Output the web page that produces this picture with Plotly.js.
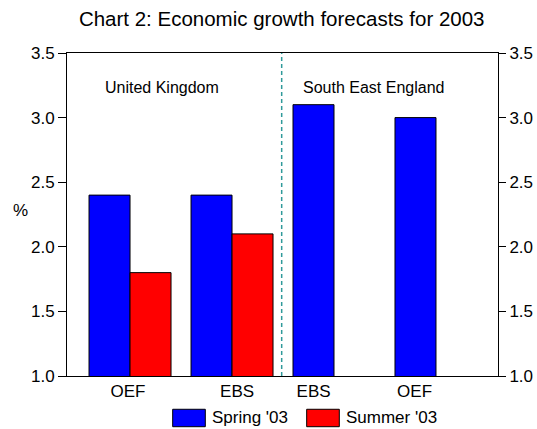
<!DOCTYPE html>
<html>
<head>
<meta charset="utf-8">
<script src="https://cdn.plot.ly/plotly-3.0.1.min.js"></script>
<style>html,body{margin:0;padding:0;background:#fff;}#chart{width:537px;height:429px;}</style>
</head>
<body>
<div id="chart"></div>
<script>
// ---- data ----
const categories = ["UK OEF", "UK EBS", "SE EBS", "SE OEF"];
const tickLabels = ["OEF", "EBS", "EBS", "OEF"];
const seriesNames = ["Spring '03", "Summer '03"];
const spring03 = [2.4, 2.4, 3.1, 3.0];
const summer03 = [1.8, 2.1, null, null];
const regionLabels = ["United Kingdom", "South East England"];
const titleText = "Chart 2: Economic growth forecasts for 2003";
const yUnit = "%";

const FONT = "Liberation Sans, Arial, sans-serif";
const colors = ["#0000FF", "#FF0000"];
const xIdx = categories.map((_, i) => i);

const traces = [spring03, summer03].map((vals, k) => ({
  type: "bar",
  name: seriesNames[k],
  x: xIdx,
  y: vals,
  base: 0,
  marker: {color: colors[k], line: {color: "#000", width: 1}},
  showlegend: false,
  hoverinfo: "x+y+name"
}));

// manual wide-swatch legend (paper coords)
const legShapes = [];
const legAnn = [];
const swX = [0.2452, 0.5561];
seriesNames.forEach((n, k) => {
  legShapes.push({type: "rect", xref: "paper", yref: "paper",
    x0: swX[k], x1: swX[k] + 0.0757, y0: -0.157, y1: -0.103,
    fillcolor: colors[k], line: {color: "#000", width: 1}});
  legAnn.push({xref: "paper", yref: "paper", x: swX[k] + 0.0877, y: -0.130,
    xanchor: "left", yanchor: "middle", showarrow: false, text: n,
    font: {family: FONT, size: 17, color: "#000"}});
});

const axisFont = {family: FONT, size: 17, color: "#000"};

const layout = {
  width: 537, height: 429,
  margin: {l: 67, r: 39, t: 53, b: 53, pad: 0},
  paper_bgcolor: "#fff", plot_bgcolor: "#fff",
  font: {family: FONT, color: "#000"},
  title: {text: titleText, x: 0.5246, xanchor: "center", y: 0.9557, yanchor: "middle",
          font: {family: FONT, size: 20.5, color: "#000"}},
  barmode: "group", bargap: 0.196, bargroupgap: 0,
  showlegend: false,
  xaxis: {
    range: [-0.618, 3.608], showgrid: false, zeroline: false,
    showline: true, linecolor: "#000", linewidth: 1, mirror: true,
    tickmode: "array", tickvals: [-0.02, 1.05, 1.80, 2.79], ticktext: tickLabels,
    ticks: "", tickfont: axisFont
  },
  yaxis: {
    range: [1.0, 3.5], dtick: 0.5, tick0: 1.0, tickformat: ".1f",
    showgrid: false, zeroline: false, showline: true, linecolor: "#000", linewidth: 1,
    ticks: "outside", ticklen: 8, tickcolor: "#000", tickfont: axisFont
  },
  yaxis2: {
    overlaying: "y", side: "right", range: [1.0, 3.5], dtick: 0.5, tick0: 1.0, tickformat: ".1f",
    showgrid: false, zeroline: false, showline: true, linecolor: "#000", linewidth: 1,
    ticks: "outside", ticklen: 7, tickcolor: "#000", tickfont: axisFont
  },
  shapes: [
    {type: "line", xref: "x", yref: "paper", x0: 1.487, x1: 1.487, y0: 0, y1: 1,
     line: {color: "#2f9a9a", width: 1.5, dash: "4px,3px"}}
  ].concat(legShapes),
  annotations: [
    {xref: "x", yref: "y", x: 0.314, y: 3.23, text: regionLabels[0], showarrow: false,
     xanchor: "center", yanchor: "middle", font: {family: FONT, size: 16, color: "#000"}},
    {xref: "x", yref: "y", x: 1.676, y: 3.23, text: regionLabels[1], showarrow: false,
     xanchor: "left", yanchor: "middle", font: {family: FONT, size: 16, color: "#000"}},
    {xref: "paper", yref: "paper", x: -0.109, y: 0.511, text: yUnit, showarrow: false,
     xanchor: "center", yanchor: "middle", font: {family: FONT, size: 17, color: "#000"}}
  ].concat(legAnn)
};

// invisible trace to activate the right-hand axis
traces.push({type: "scatter", x: [xIdx[0]], y: [spring03[0]], yaxis: "y2",
  mode: "markers", marker: {opacity: 0}, showlegend: false, hoverinfo: "skip"});

Plotly.newPlot("chart", traces, layout, {displayModeBar: false, staticPlot: true});
</script>
</body>
</html>
